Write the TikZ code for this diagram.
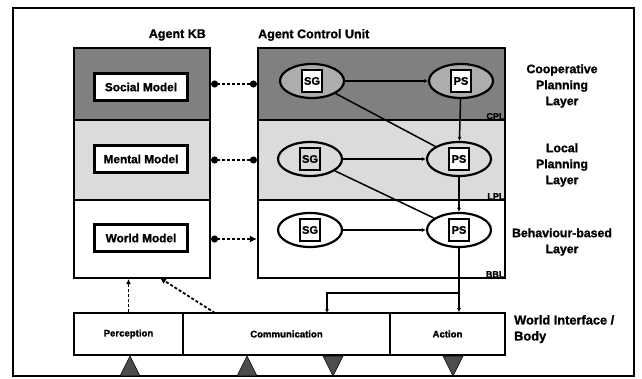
\documentclass[tikz,border=0pt]{standalone}
\usepackage{fontspec}
\setmainfont{Liberation Sans}[BoldFeatures={FakeBold=1.2}]
\usetikzlibrary{arrows.meta,shapes.geometric,calc}
\definecolor{darkfill}{gray}{0.5}
\definecolor{lightfill}{gray}{0.86}
\definecolor{ellfill}{gray}{0.68}
\definecolor{trifill}{gray}{0.3}
\begin{document}
\begin{tikzpicture}[x=1pt,y=-1pt,
  sect/.style={draw, line width=2.2pt, rectangle, inner sep=0pt},
  model/.style={draw, line width=2.2pt, fill=white, minimum width=93pt, minimum height=27pt, inner sep=0pt, font=\fontsize{11.8}{13}\selectfont\bfseries},
  ell/.style={draw, line width=2.2pt, ellipse, minimum width=64pt, minimum height=34pt, inner sep=0pt},
  tag/.style={draw, line width=1.8pt, minimum width=20pt, minimum height=22pt, inner sep=0pt, font=\fontsize{11}{12}\selectfont\bfseries},
  lbl/.style={font=\fontsize{12.3}{16}\selectfont\bfseries, align=center, inner sep=0pt},
  small/.style={font=\fontsize{9}{10}\selectfont\bfseries, inner sep=1.5pt},
  kbconn/.style={line width=1.8pt, dash pattern=on 3pt off 2pt},
  conn/.style={line width=1.5pt},
  wbox/.style={draw, line width=1.8pt, minimum height=42pt, inner sep=0pt, font=\fontsize{9.6}{11}\selectfont\bfseries},
  tri/.style={fill=trifill, draw=black, line width=0.6pt}
]
\useasboundingbox (0,0) rectangle (642,379);
% outer frame
\draw[line width=1.8pt] (13,8) rectangle (634,376);

% headings
\node[lbl, anchor=east, font=\fontsize{12.5}{14}\selectfont\bfseries] (hkb) at (206,35) {Agent KB};
\node[lbl, anchor=west, font=\fontsize{12.5}{14}\selectfont\bfseries] (hacu) at (258,35) {Agent Control Unit};

% Agent KB sections
\node[sect, fill=darkfill, minimum width=136pt, minimum height=72pt] (kbS) at (142,84) {};
\node[sect, fill=lightfill, minimum width=136pt, minimum height=80pt] (kbM) at (142,160) {};
\node[sect, fill=white, minimum width=136pt, minimum height=78pt] (kbW) at (142,239) {};
\node[model] (social) at (141,87) {Social Model};
\node[model] (mental) at (141,159) {Mental Model};
\node[model] (world) at (141,238) {World Model};

% Agent Control Unit layers
\node[sect, fill=darkfill, minimum width=247pt, minimum height=72pt] (cpl) at (381.5,84) {};
\node[sect, fill=lightfill, minimum width=247pt, minimum height=80pt] (lpl) at (381.5,160) {};
\node[sect, fill=white, minimum width=247pt, minimum height=78pt] (bbl) at (381.5,239) {};
\node[small, anchor=south east] (cpltag) at (cpl.south east) {CPL};
\node[small, anchor=south east] (lpltag) at (lpl.south east) {LPL};
\node[small, anchor=south east] (bbltag) at (bbl.south east) {BBL};

% ellipses
\node[ell, fill=ellfill] (cSG) at (312,81) {};
\node[ell, fill=ellfill] (cPS) at (461,81) {};
\node[ell, fill=lightfill] (lSG) at (310,159) {};
\node[ell, fill=lightfill] (lPS) at (459,159) {};
\node[ell, fill=white] (bSG) at (310,230) {};
\node[ell, fill=white] (bPS) at (459,230) {};
\node[tag, fill=white] (cSGt) at (cSG) {SG};
\node[tag, fill=white] (cPSt) at (cPS) {PS};
\node[tag, fill=lightfill] (lSGt) at (lSG) {SG};
\node[tag, fill=white] (lPSt) at (lPS) {PS};
\node[tag, fill=white] (bSGt) at (bSG) {SG};
\node[tag, fill=white] (bPSt) at (bPS) {PS};

% connectors inside ACU
\draw[conn, -{Latex[length=4pt,width=4pt]}] (cSG) -- (cPS);
\draw[conn, -{Latex[length=4pt,width=4pt]}] (lSG) -- (lPS);
\draw[conn, -{Latex[length=4pt,width=4pt]}] (bSG) -- (bPS);
\draw[conn, -{Latex[length=4pt,width=4pt]}] (cPS) -- (lPS);
\draw[conn, -{Latex[length=4pt,width=4pt]}] (lPS) -- (bPS);
\draw[conn] (cSG) -- (lPS);
\draw[conn] (lSG) -- (bPS);

% KB <-> ACU connectors
\draw[kbconn, {Circle[length=7pt]}-{Circle[length=7pt]}] (kbS.east) -- (cpl.west);
\draw[kbconn, {Circle[length=7pt]}-{Circle[length=7pt]}] (kbM.east) -- (lpl.west);
\draw[kbconn, {Circle[length=7pt]}-{Latex[length=7pt,width=7pt]}] (kbW.east) -- (bbl.west);

% right labels
\node[lbl] (coop) at (562,86) {Cooperative\\Planning\\Layer};
\node[lbl] (local) at (562,165) {Local\\Planning\\Layer};
\node[lbl] (beh) at (562,242) {Behaviour-based\\Layer};
\node[lbl, align=left, anchor=north west, font=\fontsize{12.8}{16}\selectfont\bfseries] (wib) at (514,315) {World Interface /\\Body};

% world interface boxes
\node[wbox, minimum width=109pt] (perc) at (128.5,334) {Perception};
\node[wbox, minimum width=207pt] (comm) at (286.5,334) {Communication};
\node[wbox, minimum width=115pt] (act) at (447.5,334) {Action};

% output connectors
\coordinate (branch) at (459,293);
\coordinate (commin) at (327,313);
\draw[conn, -{Latex[length=4pt,width=4pt]}] (bPS) -- (bPS |- act.north);
\draw[conn, -{Latex[length=4pt,width=4pt]}] (branch) -| (commin);

% perception / communication to KB
\coordinate (commout) at (215,313);
\coordinate (kbin) at (160,278);
\draw[kbconn, -{Latex[length=5pt,width=5pt]}] (perc.north) -- (perc.north |- kbW.south);
\draw[kbconn, -{Latex[length=6pt,width=6pt]}] (commout) -- (kbin);

% triangles
\filldraw[tri] (120,376) -- (130,356) -- (140,376) -- cycle;
\filldraw[tri] (237,376) -- (247,356) -- (257,376) -- cycle;
\filldraw[tri] (323,356) -- (333,376) -- (343,356) -- cycle;
\filldraw[tri] (443,356) -- (453,376) -- (463,356) -- cycle;
\end{tikzpicture}
\end{document}
